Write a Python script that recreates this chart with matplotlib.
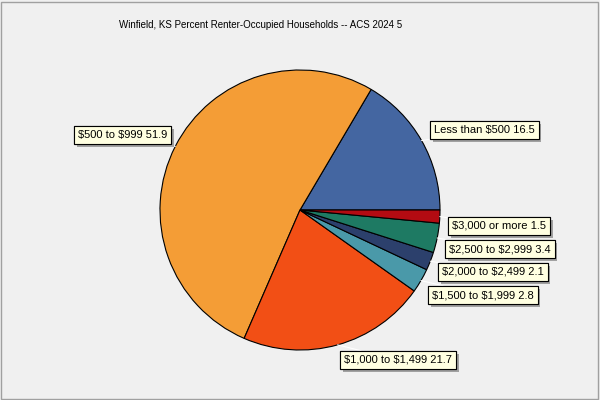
import matplotlib
matplotlib.use("Agg")
import matplotlib.pyplot as plt
import matplotlib.patheffects as pe
import numpy as np

plt.rcParams['text.parse_math'] = False

labels = ['Less than $500', '$500 to $999', '$1,000 to $1,499', '$1,500 to $1,999',
          '$2,000 to $2,499', '$2,500 to $2,999', '$3,000 or more']
values = [16.5, 51.9, 21.7, 2.8, 2.1, 3.4, 1.5]
colors = ['#4466a1', '#f49d36', '#f24f15', '#4a99a9', '#2c406c', '#1e7a63', '#b30b12']

title = 'Winfield, KS Percent Renter-Occupied Households -- ACS 2024 5'

# label box anchor points in pixel space (x, y from top), and alignment
label_pos = [(434, 130, 'left'), (167, 135, 'right'), (344, 360, 'left'),
             (432, 295, 'left'), (442, 272, 'left'), (449, 249, 'left'),
             (452, 226, 'left')]

fig = plt.figure(figsize=(6, 4), dpi=100)
fig.patch.set_facecolor('#f0f0f0')
ax = fig.add_axes([0, 0, 1, 1])

cx, cy, r = 300, 190, 140
wedges, _ = ax.pie(values, colors=colors, startangle=0, counterclock=True,
                   center=(cx, cy), radius=r, frame=True,
                   wedgeprops=dict(edgecolor='black', linewidth=0.8))
ax.set_xlim(0, 600)
ax.set_ylim(0, 400)
ax.set_aspect('equal')
ax.axis('off')

ax.text(261, 400 - 25, title, ha='center', va='center', fontsize=7,
        family='Liberation Sans')

total = sum(values)
start = 0.0
for lab, val, (lx, ly, al) in zip(labels, values, label_pos):
    mid = np.deg2rad(360 * (start + val / 2) / total)
    start += val
    ex, ey = cx + r * np.cos(mid), cy + r * np.sin(mid)
    t = ax.annotate(f'{lab} {val}', xy=(ex, ey), xytext=(lx, 400 - ly),
                    ha=al, va='center', fontsize=8, family='Liberation Sans',
                    bbox=dict(boxstyle='square,pad=0.35', fc='#ffffe1', ec='black', lw=0.8),
                    arrowprops=dict(arrowstyle='-', color='white', lw=0.8,
                                    shrinkA=0, shrinkB=0))
    t.get_bbox_patch().set_path_effects([
        pe.withSimplePatchShadow(offset=(2, -2), shadow_rgbFace='#808080', alpha=0.7),
        pe.Normal()])

border = plt.Rectangle((1, 1), 597, 397, fill=False, ec='#a0a0a0', lw=1)
ax.add_patch(border)

fig.savefig('out.png', dpi=100, facecolor=fig.get_facecolor())
